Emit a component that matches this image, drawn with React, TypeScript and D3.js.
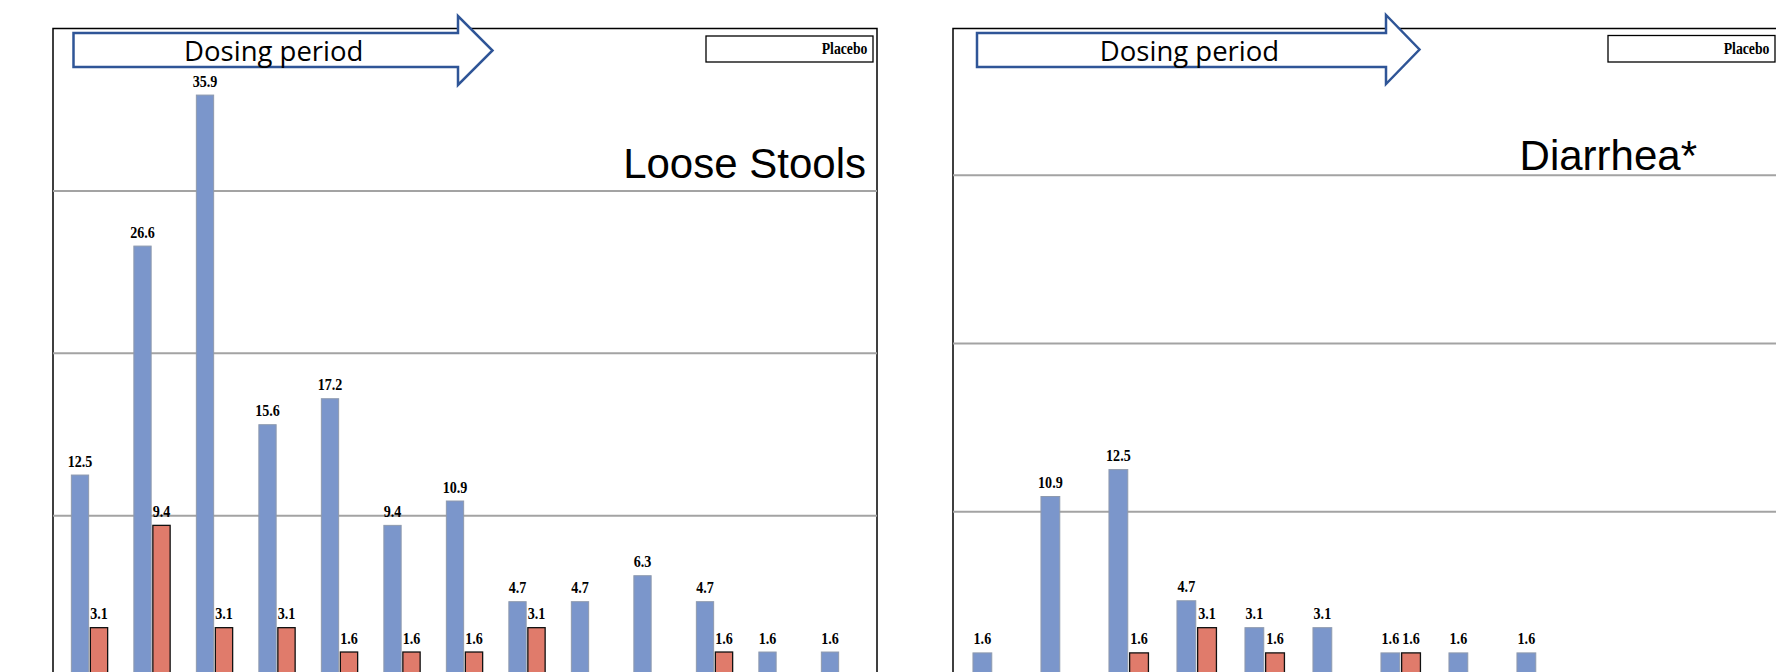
import React from "react";
import * as d3 from "d3";

// ---------- data ----------
const categories = ["1", "2", "3", "4", "5", "6", "7", "8", "9", "10", "11", "12", "13"];
const seriesNames = ["Drug", "Placebo"];

const looseStoolsDrug = [12.5, 26.6, 35.9, 15.6, 17.2, 9.4, 10.9, 4.7, 4.7, 6.3, 4.7, 1.6, 1.6];
const looseStoolsPlacebo = [3.1, 9.4, 3.1, 3.1, 1.6, 1.6, 1.6, 3.1, null, null, 1.6, null, null];

const diarrheaDrug = [1.6, 10.9, 12.5, 4.7, 3.1, 3.1, 1.6, 1.6, 1.6, null, null, null, null];
const diarrheaPlacebo = [null, null, 1.6, 3.1, 1.6, null, 1.6, null, null, null, null, null, null];

const gridTicks = [10, 20, 30];
const legendLabel = "Placebo";
const arrowLabel = "Dosing period";

type Panel = {
  title: string;
  drug: (number | null)[];
  placebo: (number | null)[];
  frameLeft: number;
  frameRight: number;
  frameTop: number;
  yMax: number;
  yBottom: number;
  xStart: number;
  xStep: number;
  titleX: number;
  titleY: number;
  arrow: { x0: number; x1: number; tip: number; bodyTop: number; bodyBottom: number; headTop: number; headBottom: number };
  legend: { x0: number; x1: number; y0: number; y1: number };
};

const panels: Panel[] = [
  {
    title: "Loose Stools",
    drug: looseStoolsDrug,
    placebo: looseStoolsPlacebo,
    frameLeft: 53,
    frameRight: 877,
    frameTop: 28.5,
    yMax: 40,
    yBottom: 678,
    xStart: 58.25,
    xStep: 62.5,
    titleX: 866,
    titleY: 178,
    arrow: { x0: 73.5, x1: 458, tip: 492.5, bodyTop: 33, bodyBottom: 67, headTop: 16, headBottom: 85 },
    legend: { x0: 706, x1: 873, y0: 36, y1: 62 },
  },
  {
    title: "Diarrhea*",
    drug: diarrheaDrug,
    placebo: diarrheaPlacebo,
    frameLeft: 953,
    frameRight: 1800,
    frameTop: 28.5,
    yMax: 38.73,
    yBottom: 679.8,
    xStart: 958.7,
    xStep: 68,
    titleX: 1697,
    titleY: 170,
    arrow: { x0: 977, x1: 1386, tip: 1419.5, bodyTop: 33, bodyBottom: 67, headTop: 15, headBottom: 84 },
    legend: { x0: 1608, x1: 1775, y0: 35.5, y1: 62 },
  },
];

const BLUE = "#7B96CB";
const RED = "#E07B6B";
const ARROW = "#2F5597";

function PanelView({ p }: { p: Panel }) {
  const y = d3.scaleLinear().domain([0, p.yMax]).range([p.yBottom, p.frameTop]);
  const x = d3
    .scaleBand<string>()
    .domain(categories)
    .range([p.xStart, p.xStart + p.xStep * categories.length])
    .padding(0);
  const inner = d3
    .scaleBand<string>()
    .domain(seriesNames)
    .range([0, x.bandwidth()])
    .paddingInner(0.09)
    .paddingOuter(0.69);
  const bw = inner.bandwidth();
  const a = p.arrow;
  const arrowPath = d3.path();
  arrowPath.moveTo(a.x0, a.bodyTop);
  arrowPath.lineTo(a.x1, a.bodyTop);
  arrowPath.lineTo(a.x1, a.headTop);
  arrowPath.lineTo(a.tip, (a.headTop + a.headBottom) / 2);
  arrowPath.lineTo(a.x1, a.headBottom);
  arrowPath.lineTo(a.x1, a.bodyBottom);
  arrowPath.lineTo(a.x0, a.bodyBottom);
  arrowPath.closePath();

  const series = [
    { name: "Drug", values: p.drug, fill: BLUE, stroke: "#8E9AAE", sw: 1 },
    { name: "Placebo", values: p.placebo, fill: RED, stroke: "#111", sw: 1.3 },
  ];

  return (
    <g>
      {/* frame */}
      <rect x={p.frameLeft} y={p.frameTop} width={p.frameRight - p.frameLeft} height={700 - p.frameTop} fill="#fff" stroke="#000" strokeWidth={1.5} />
      {/* gridlines */}
      {gridTicks.map((t) => (
        <line key={t} x1={p.frameLeft} x2={p.frameRight} y1={y(t)} y2={y(t)} stroke="#A3A3A3" strokeWidth={2} />
      ))}
      {/* bars */}
      {series.map((s) =>
        s.values.map((v, i) => {
          if (v == null) return null;
          const bx = (x(categories[i]) as number) + (inner(s.name) as number);
          const by = y(v);
          return (
            <g key={s.name + i}>
              <rect x={bx} y={by} width={bw} height={y(0) - by} fill={s.fill} stroke={s.stroke} strokeWidth={s.sw} />
              <text
                transform={`translate(${bx + bw / 2},${by - 8.5}) scale(0.88,1)`}
                textAnchor="middle"
                fontFamily="'Liberation Serif', 'Times New Roman', serif"
                fontWeight="bold"
                fontSize={16}
                fill="#000"
              >
                {v.toFixed(1)}
              </text>
            </g>
          );
        })
      )}
      {/* title */}
      <text x={p.titleX} y={p.titleY} textAnchor="end" fontFamily="'Liberation Sans', Arial, sans-serif" fontSize={42} fill="#000">
        {p.title}
      </text>
      {/* legend box */}
      <rect x={p.legend.x0} y={p.legend.y0} width={p.legend.x1 - p.legend.x0} height={p.legend.y1 - p.legend.y0} fill="#fff" stroke="#000" strokeWidth={1.3} />
      <text
        transform={`translate(${p.legend.x1 - 5.5},${p.legend.y1 - 8}) scale(0.86,1)`}
        textAnchor="end"
        fontFamily="'Liberation Serif', 'Times New Roman', serif"
        fontWeight="bold"
        fontSize={16}
        fill="#000"
      >
        {legendLabel}
      </text>
      {/* dosing period arrow */}
      <path d={arrowPath.toString()} fill="#fff" stroke={ARROW} strokeWidth={2.5} strokeLinejoin="miter" />
      <text
        x={(a.x0 + a.x1) / 2 + 8}
        y={61}
        textAnchor="middle"
        fontFamily="'Open Sans', 'Noto Sans', sans-serif"
        fontSize={27.5}
        fill="#000"
      >
        {arrowLabel}
      </text>
    </g>
  );
}

export default function App() {
  return (
    <svg
      width={1776}
      height={672}
      style={{ position: "absolute", left: 0, top: 0, background: "#fff", display: "block" }}
    >
      <rect x={0} y={0} width={1776} height={672} fill="#fff" />
      {panels.map((p) => (
        <PanelView key={p.title} p={p} />
      ))}
    </svg>
  );
}
